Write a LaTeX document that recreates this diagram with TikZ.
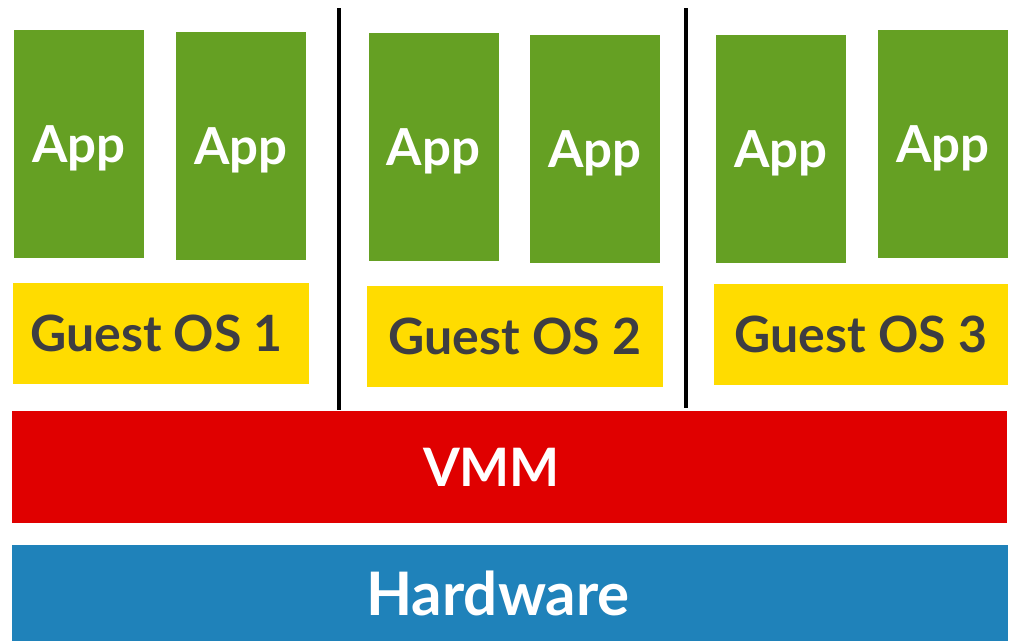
\documentclass[tikz,border=0pt]{standalone}
\usepackage{fontspec}
\setmainfont{Lato}
\usetikzlibrary{positioning}
\usepackage{xcolor}
\definecolor{appgreen}{HTML}{65A023}
\definecolor{osyellow}{HTML}{FFDC00}
\definecolor{vmmred}{HTML}{E00000}
\definecolor{hwblue}{HTML}{1F82BA}
\definecolor{osgray}{HTML}{3D3D42}
\tikzset{
    layer/.style={
        rectangle,
        draw=none,
        inner sep=0pt,
        font=\bfseries
    },
    app/.style={
        layer,
        fill=appgreen,
        text=white,
        text depth=0pt,
        minimum width=130pt,
        minimum height=228pt,
        font=\bfseries\fontsize{51}{53}\selectfont
    },
    guest/.style={
        layer,
        fill=osyellow,
        text=osgray,
        minimum width=296pt,
        minimum height=101pt,
        font=\bfseries\fontsize{50}{52}\selectfont
    },
    sep/.style={
        draw,
        black,
        line width=4pt
    }
}

\begin{document}
\begin{tikzpicture}[x=1pt, y=-1pt]
    \useasboundingbox (0,0) rectangle (1010,641);

    % Applications
    \node[app] (app1) at (79,144) {App};
    \node[app] (app2) at (241,146) {App};
    \node[app] (app3) at (433.5,147) {App};
    \node[app] (app4) at (595,149) {App};
    \node[app] (app5) at (781,149) {App};
    \node[app] (app6) at (943,144) {App};

    % Guest operating systems
    \node[guest] (os1) at (160.5,333.5) {\hspace*{-8pt}Guest OS 1};
    \node[guest] (os2) at (515,336) {Guest OS 2};
    \node[guest, minimum width=294pt] (os3) at (861,334.5) {Guest OS 3};

    % Separators
    \coordinate (s1top) at (339,8);
    \coordinate (s1bot) at (339,410);
    \coordinate (s2top) at (686,8);
    \coordinate (s2bot) at (686,408);
    \draw[sep] (s1top) -- (s1bot);
    \draw[sep] (s2top) -- (s2bot);

    % Monitor and hardware
    \node[layer, fill=vmmred, text=white, minimum width=995pt, minimum height=112pt,
        font=\bfseries\fontsize{53}{55}\selectfont] (vmm) at (509.5,467) {\hspace*{-36pt}VMM};
    \node[layer, fill=hwblue, text=white, minimum width=996pt, minimum height=96pt,
        font=\bfseries\fontsize{60}{62}\selectfont] (hw) at (510,593) {\hspace*{-24pt}Hardware};
\end{tikzpicture}
\end{document}
